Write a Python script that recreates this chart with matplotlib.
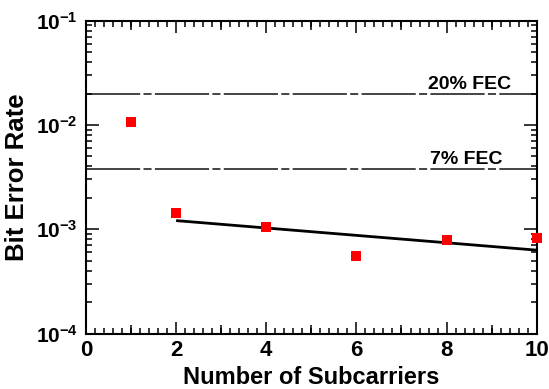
import matplotlib
matplotlib.use("Agg")
import matplotlib.pyplot as plt
from matplotlib.ticker import MultipleLocator, LogLocator, NullFormatter, FixedLocator

plt.rcParams['font.family'] = ['Liberation Sans', 'DejaVu Sans']
plt.rcParams['font.weight'] = 'bold'
plt.rcParams['mathtext.fontset'] = 'custom'
plt.rcParams['mathtext.rm'] = 'Liberation Sans:bold'
plt.rcParams['mathtext.bf'] = 'Liberation Sans:bold'
plt.rcParams['mathtext.default'] = 'bf'
plt.rcParams['lines.scale_dashes'] = False

# Measured bit error rates per number of subcarriers
subcarriers = [1, 2, 4, 6, 8, 10]
ber = [1.07e-2, 1.42e-3, 1.04e-3, 5.5e-4, 7.9e-4, 8.2e-4]

# Trend line end points
fit_x = [2, 10]
fit_ber = [1.21e-3, 6.3e-4]

# FEC thresholds
fec_levels = [2.0e-2, 3.8e-3]
fec_labels = ['20% FEC', '7% FEC']
fec_label_x = [8.5, 8.43]

fig = plt.figure(figsize=(5.49, 3.89), dpi=100)
ax = fig.add_axes([86 / 549, 1 - 333.5 / 389, (536.7 - 86) / 549, (333.5 - 20.7) / 389])

dash = (0, (39, 2.4, 5.8, 2.4))
for lvl, lab, lx in zip(fec_levels, fec_labels, fec_label_x):
    ax.axhline(lvl, color='#111111', lw=1.1, linestyle=dash, zorder=1)
    ax.annotate(lab, xy=(lx, lvl), xytext=(0, 0.5), textcoords='offset points',
                ha='center', va='bottom', fontsize=14, fontweight='bold')

ax.plot(fit_x, fit_ber, color='black', lw=2.0, solid_capstyle='butt', zorder=2,
        clip_on=False)
ax.plot(subcarriers, ber, linestyle='none', marker='s', markersize=6.8,
        color='#ff0000', markeredgewidth=0, zorder=3, clip_on=False)

ax.set_yscale('log')
ax.set_xlim(0, 10)
ax.set_ylim(1e-4, 1e-1)

ax.xaxis.set_major_locator(MultipleLocator(2))
ax.xaxis.set_minor_locator(MultipleLocator(0.2))
ax.yaxis.set_major_locator(LogLocator(base=10))
ax.yaxis.set_minor_locator(LogLocator(base=10, subs=range(2, 10)))
ax.yaxis.set_minor_formatter(NullFormatter())

ax.tick_params(which='major', direction='in', length=8.6, width=1.1,
               top=True, right=True, labelsize=16, pad=5)
ax.tick_params(axis='y', which='major', length=9.4, labelsize=15, pad=6)
ax.tick_params(which='minor', direction='in', length=4.3, width=1.1,
               top=True, right=True)
for lbl in ax.get_xticklabels() + ax.get_yticklabels():
    lbl.set_fontweight('bold')

# intermediate ticks at odd integers on bottom and top
for loc in ('bottom', 'top'):
    sec = ax.secondary_xaxis(loc)
    sec.xaxis.set_major_locator(FixedLocator([1, 3, 5, 7, 9]))
    sec.tick_params(direction='in', length=6.5, width=1.1,
                    labelbottom=False, labeltop=False)
    for s in sec.spines.values():
        s.set_visible(False)

for s in ax.spines.values():
    s.set_linewidth(1.5)

ax.set_xlabel('Number of Subcarriers', fontsize=17, fontweight='bold', labelpad=3)
ax.set_ylabel('Bit Error Rate', fontsize=18.5, fontweight='bold', labelpad=5)

fig.savefig('out.png', dpi=100)
